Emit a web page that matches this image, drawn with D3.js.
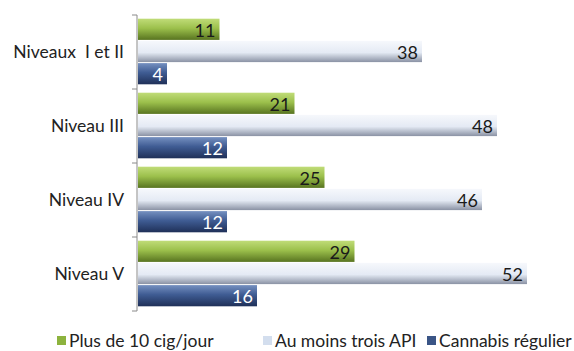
<!DOCTYPE html>
<html>
<head>
<meta charset="utf-8">
<script src="https://cdn.jsdelivr.net/npm/d3@7"></script>
<style>
  body { margin: 0; background: #fff; }
  text { font-family: Lato, "Open Sans", sans-serif; }
</style>
</head>
<body>
<svg id="chart" width="574" height="351"></svg>
<script>
const categories = ["Niveaux  I et II", "Niveau III", "Niveau IV", "Niveau V"];
const seriesNames = ["Plus de 10 cig/jour", "Au moins trois API", "Cannabis régulier"];
const cigValues = [11, 21, 25, 29];
const apiValues = [38, 48, 46, 52];
const cannabisValues = [4, 12, 12, 16];

const seriesValues = [cigValues, apiValues, cannabisValues];
const seriesIds = ["green", "white", "blue"];

const svg = d3.select("#chart");

// gradients to mimic the shaded bars
const defs = svg.append("defs");
const gradStops = {
    green: [["0%", "#c0dc78"], ["45%", "#9cc04c"], ["100%", "#587420"]],
    white: [["0%", "#f6f8fc"], ["55%", "#e4eaf4"], ["100%", "#8a92a4"]],
    blue:  [["0%", "#7590c0"], ["45%", "#3f5c93"], ["100%", "#1f3058"]]
};
Object.entries(gradStops).forEach(([id, stops]) => {
    const g = defs.append("linearGradient")
        .attr("id", "g-" + id)
        .attr("x1", 0).attr("y1", 0).attr("x2", 0).attr("y2", 1);
    stops.forEach(s => g.append("stop").attr("offset", s[0]).attr("stop-color", s[1]));
});

const x = d3.scaleLinear().domain([0, 56]).range([137, 557]);
const y = d3.scaleBand().domain(categories).range([15, 311]).paddingInner(0.1).paddingOuter(0.05);
const ySub = d3.scaleBand().domain(d3.range(seriesNames.length)).range([0, y.bandwidth()]);

// axis
svg.append("line")
    .attr("x1", 137).attr("x2", 137)
    .attr("y1", 15).attr("y2", 311)
    .attr("stroke", "#8a8a8a").attr("stroke-width", 1);

d3.range(categories.length + 1).forEach(i => {
    const ty = 15 + i * (296 / categories.length);
    svg.append("line")
        .attr("x1", 132).attr("x2", 137)
        .attr("y1", ty).attr("y2", ty)
        .attr("stroke", "#8a8a8a");
});

// category labels
svg.selectAll(".cat")
    .data(categories)
    .enter()
    .append("text")
    .attr("x", 124)
    .attr("y", d => y(d) + y.bandwidth() / 2)
    .attr("dy", "0.35em")
    .attr("text-anchor", "end")
    .attr("font-size", 17.5)
    .attr("fill", "#222")
    .style("white-space", "pre")
    .text(d => d);

// bars
seriesValues.forEach((vals, si) => {
    const g = svg.append("g");
    const data = categories.map((c, i) => ({ c, v: vals[i] }));
    g.selectAll("rect")
        .data(data)
        .enter()
        .append("rect")
        .attr("x", x(0) + 1)
        .attr("y", d => y(d.c) + ySub(si))
        .attr("width", d => x(d.v) - x(0) - 1)
        .attr("height", ySub.bandwidth() - 1)
        .attr("fill", "url(#g-" + seriesIds[si] + ")");
    g.selectAll("text")
        .data(data)
        .enter()
        .append("text")
        .attr("x", d => x(d.v) - 4)
        .attr("y", d => y(d.c) + ySub(si) + ySub.bandwidth() / 2)
        .attr("dy", "0.38em")
        .attr("text-anchor", "end")
        .attr("font-size", 18)
        .attr("fill", si === 2 ? "#fff" : "#1a1a1a")
        .text(d => d.v);
});

// legend
const legendX = [57, 263, 427];
const legendColors = ["#8db33e", "#d3deee", "#3a5586"];
seriesNames.forEach((name, i) => {
    svg.append("rect")
        .attr("x", legendX[i]).attr("y", 336)
        .attr("width", 9).attr("height", 9)
        .attr("fill", legendColors[i]);
    svg.append("text")
        .attr("x", legendX[i] + 12).attr("y", 347)
        .attr("font-size", 17.5)
        .attr("fill", "#222")
        .text(name);
});
</script>
</body>
</html>
